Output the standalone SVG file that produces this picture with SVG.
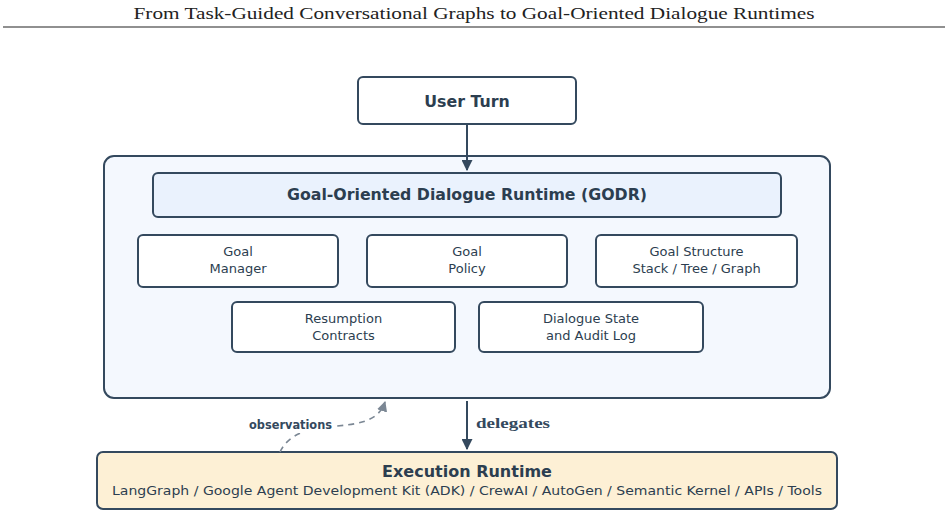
<svg xmlns="http://www.w3.org/2000/svg" width="948" height="517" viewBox="0 0 948 517">
<style>
.box{fill:#ffffff;stroke:#34495e;stroke-width:2}
.t{font-family:"DejaVu Sans","Liberation Sans",sans-serif;fill:#2c3e50;text-anchor:middle}
.b{font-weight:bold}
.s{font-size:13px}
.conn{fill:none;stroke:#34495e;stroke-width:2}
.dash{fill:none;stroke:#7b8794;stroke-width:1.6;stroke-dasharray:6 5}
</style>
<defs>
<marker id="ah" viewBox="0 0 10 10" refX="9" refY="5" markerWidth="5.5" markerHeight="5.5" orient="auto" markerUnits="strokeWidth">
<path d="M0,0 L10,5 L0,10 z" fill="#34495e"/>
</marker>
<marker id="ahg" viewBox="0 0 10 10" refX="9" refY="5" markerWidth="6.5" markerHeight="6.5" orient="auto" markerUnits="strokeWidth">
<path d="M0,0 L10,5 L0,10 z" fill="#7b8794"/>
</marker>
</defs>
<rect width="948" height="517" fill="#ffffff"/>
<text x="474" y="19" font-family="'Liberation Serif',serif" font-size="16" fill="#222" text-anchor="middle" textLength="681" lengthAdjust="spacingAndGlyphs">From Task-Guided Conversational Graphs to Goal-Oriented Dialogue Runtimes</text>
<line x1="3" y1="27" x2="945" y2="27" stroke="#222" stroke-width="1.2"/>

<g id="godr-container">
<rect x="104" y="156" width="726" height="242" rx="10" fill="#f4f8fe" stroke="#34495e" stroke-width="2"/>
</g>
<g id="user-turn">
<rect class="box" x="358" y="77" width="218" height="47" rx="5"/>
<text class="t b" x="467" y="107" font-size="15.8">User Turn</text>
</g>
<g id="godr-header">
<rect x="153" y="173" width="628" height="44" rx="5" fill="#eaf2fd" stroke="#34495e" stroke-width="2"/>
<text class="t b" x="467" y="200" font-size="16" textLength="360" lengthAdjust="spacingAndGlyphs">Goal-Oriented Dialogue Runtime (GODR)</text>
</g>
<g id="goal-manager">
<rect class="box" x="138" y="235" width="200" height="52" rx="5"/>
<text class="t s" x="238" y="256">Goal</text>
<text class="t s" x="238" y="273">Manager</text>
</g>
<g id="goal-policy">
<rect class="box" x="367" y="235" width="200" height="52" rx="5"/>
<text class="t s" x="467" y="256">Goal</text>
<text class="t s" x="467" y="273">Policy</text>
</g>
<g id="goal-structure">
<rect class="box" x="596" y="235" width="201" height="52" rx="5"/>
<text class="t s" x="696.5" y="256">Goal Structure</text>
<text class="t s" x="696.5" y="273">Stack / Tree / Graph</text>
</g>
<g id="resumption-contracts">
<rect class="box" x="232" y="302" width="223" height="50" rx="5"/>
<text class="t s" x="343.5" y="323">Resumption</text>
<text class="t s" x="343.5" y="340">Contracts</text>
</g>
<g id="dialogue-state">
<rect class="box" x="479" y="302" width="224" height="50" rx="5"/>
<text class="t s" x="591" y="323">Dialogue State</text>
<text class="t s" x="591" y="340">and Audit Log</text>
</g>
<g id="execution-runtime">
<rect x="97" y="452" width="740" height="57" rx="6" fill="#fdf0d5" stroke="#34495e" stroke-width="2"/>
<text class="t b" x="467" y="477" font-size="16">Execution Runtime</text>
<text class="t s" x="467" y="495" textLength="710" lengthAdjust="spacingAndGlyphs">LangGraph / Google Agent Development Kit (ADK) / CrewAI / AutoGen / Semantic Kernel / APIs / Tools</text>
</g>

<g id="connectors">
<line class="conn" x1="467" y1="124" x2="467" y2="170" marker-end="url(#ah)"/>
<line class="conn" x1="467" y1="401" x2="467" y2="449" marker-end="url(#ah)"/>
<path class="dash" d="M280,452 C300,410 372,442 385,402" marker-end="url(#ahg)"/>
<rect x="246" y="415" width="90" height="18" fill="#ffffff"/>
<text x="290.5" y="429" font-family="'DejaVu Sans','Liberation Sans',sans-serif" font-size="12" font-weight="bold" fill="#34495e" text-anchor="middle" textLength="83" lengthAdjust="spacingAndGlyphs">observations</text>
<text x="476" y="428" font-family="'Liberation Serif',serif" font-size="14" font-weight="bold" fill="#34495e" textLength="74" lengthAdjust="spacingAndGlyphs">delegates</text>
</g>
</svg>
